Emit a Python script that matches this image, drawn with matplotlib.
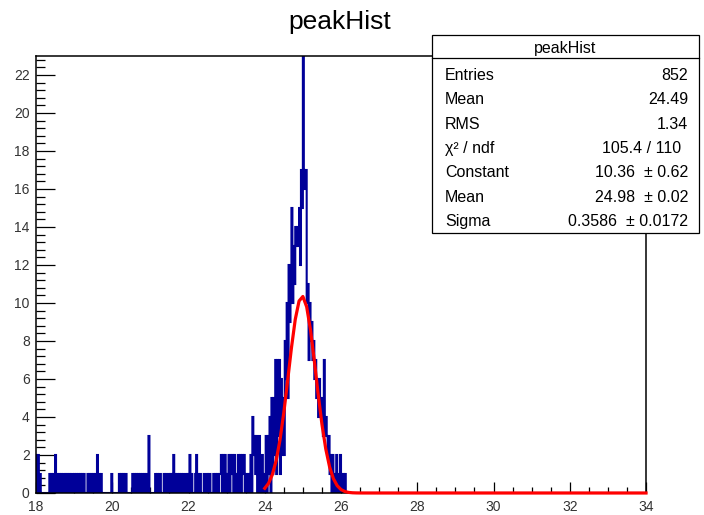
"""ROOT-style histogram 'peakHist' with gaussian fit and stats box."""
import numpy as np
import matplotlib
matplotlib.use("Agg")
import matplotlib.pyplot as plt
from matplotlib.patches import Rectangle
from matplotlib.lines import Line2D
from matplotlib.ticker import MultipleLocator

plt.rcParams["font.family"] = ["Liberation Sans", "DejaVu Sans"]
plt.rcParams["path.simplify"] = False  # keep every sub-pixel bin edge

# binning: 0.025 wide bins from 18 to 34
X_LO, X_HI, BIN_W = 18.0, 34.0, 0.025

# bin contents, 40 bins per unit of x
counts_18 = [2, 0, 2, 0, 1, 0, 0, 0, 0, 0, 0, 0, 0, 0, 1, 0, 1, 0, 1, 0,
             2, 0, 1, 0, 1, 0, 1, 0, 1, 1, 0, 1, 0, 1, 0, 1, 0, 1, 1, 0]
counts_19 = [1, 0, 1, 0, 1, 0, 1, 0, 1, 0, 1, 0, 0, 0, 1, 0, 1, 0, 1, 0,
             1, 0, 1, 0, 2, 0, 1, 0, 1, 0, 0, 0, 0, 0, 0, 0, 0, 0, 0, 1]
counts_20 = [0, 0, 0, 0, 0, 0, 0, 1, 0, 1, 0, 1, 0, 1, 1, 0, 0, 0, 0, 0,
             0, 1, 0, 1, 0, 1, 0, 1, 0, 1, 0, 1, 0, 1, 0, 1, 0, 0, 3, 0]
counts_21 = [0, 0, 0, 0, 0, 1, 0, 1, 0, 1, 1, 0, 0, 0, 1, 0, 1, 0, 0, 1,
             0, 1, 0, 1, 2, 0, 1, 0, 1, 0, 1, 0, 1, 0, 1, 0, 0, 1, 0, 1]
counts_22 = [0, 2, 0, 1, 0, 0, 0, 1, 2, 0, 1, 0, 1, 0, 0, 0, 1, 0, 0, 1,
             0, 1, 1, 0, 0, 0, 1, 0, 1, 0, 1, 0, 1, 1, 2, 0, 2, 0, 2, 1]
counts_23 = [0, 1, 2, 0, 2, 1, 2, 0, 2, 1, 0, 1, 2, 0, 2, 0, 2, 1, 2, 0,
             1, 0, 1, 0, 1, 2, 0, 4, 2, 3, 1, 3, 0, 2, 3, 0, 1, 2, 0, 1]
counts_24 = [0, 3, 0, 3, 1, 4, 0, 5, 1, 5, 2, 7, 1, 7, 3, 7, 1, 6, 2, 5,
             2, 8, 6, 10, 5, 12, 9, 11, 15, 10, 13, 11, 14, 13, 14, 13, 15, 12, 17, 15]
counts_25 = [23, 17, 16, 17, 10, 11, 7, 10, 8, 9, 7, 8, 6, 7, 5, 6, 4, 6, 5, 4,
             5, 3, 7, 3, 4, 3, 2, 3, 1, 2, 0, 2, 0, 1, 0, 2, 0, 1, 0, 2]
counts_26 = [1, 0, 1, 0, 1]

# gaussian fit result (from the stats box)
fit_const, fit_mean, fit_sigma = 10.36, 24.98, 0.3586
fit_lo, fit_hi, fit_npx = 24.0, 34.0, 100

stats_title = "peakHist"
stats_labels = ["Entries", "Mean", "RMS", "χ² / ndf", "Constant", "Mean", "Sigma"]
stats_values = ["852", "24.49", "1.34", "105.4 / 110", "10.36  ± 0.62",
                "24.98  ± 0.02", "0.3586  ± 0.0172"]

W, H = 704, 515


def fx(px):
    return px / W


def fy(py):
    return 1 - py / H


counts = np.concatenate([counts_18, counts_19, counts_20, counts_21, counts_22,
                         counts_23, counts_24, counts_25, counts_26]).astype(float)
n_bins = int(round((X_HI - X_LO) / BIN_W))
counts = np.concatenate([counts, np.zeros(n_bins - len(counts))])
edges = X_LO + BIN_W * np.arange(n_bins + 1)

fig = plt.figure(figsize=(W / 100, H / 100), dpi=100)
fig.patch.set_facecolor("white")
ax = fig.add_axes([fx(36), fy(493), (646 - 36) / W, (493 - 56) / H])

st = ax.stairs(counts, edges, color="#000099", lw=1.5, baseline=0, zorder=2)
st.set_snap(False)

xf = np.linspace(fit_lo, fit_hi, fit_npx + 1)
yf = fit_const * np.exp(-0.5 * ((xf - fit_mean) / fit_sigma) ** 2)
ax.plot(xf, yf, color="#FF0000", lw=2.3, zorder=4, clip_on=False)

ax.set_xlim(X_LO, X_HI)
ax.set_ylim(0, 23)

ax.xaxis.set_major_locator(MultipleLocator(2))
ax.xaxis.set_minor_locator(MultipleLocator(0.5))
ax.yaxis.set_major_locator(MultipleLocator(2))
ax.yaxis.set_minor_locator(MultipleLocator(0.4))

ax.tick_params(axis="x", which="major", direction="in", length=8, width=0.9,
               labelsize=10, pad=5, top=False, labelcolor="#333333")
ax.tick_params(axis="x", which="minor", direction="in", length=4, width=0.9, top=False)
ax.tick_params(axis="y", which="major", direction="in", length=13.5, width=0.9,
               labelsize=10, pad=4.5, right=False, labelcolor="#333333")
ax.tick_params(axis="y", which="minor", direction="in", length=6.7, width=0.9, right=False)

for s in ax.spines.values():
    s.set_linewidth(1.1)
    s.set_color("black")

# title
fig.text(fx(340), fy(28.5), "peakHist", ha="center", va="baseline", fontsize=19)

# stats box
box_l, box_r, box_t, box_b = 432, 699, 35, 233
fig.add_artist(Rectangle((fx(box_l), fy(box_b)), (box_r - box_l) / W, (box_b - box_t) / H,
                         transform=fig.transFigure, facecolor="white",
                         edgecolor="black", lw=0.9, zorder=10))
fig.add_artist(Line2D([fx(box_l), fx(box_r)], [fy(58), fy(58)],
                      transform=fig.transFigure, color="black", lw=0.9, zorder=11))
fig.text(fx(565), fy(52.5), stats_title, ha="center", va="baseline",
         fontsize=11.5, zorder=12)
for i, (lab, val) in enumerate(zip(stats_labels, stats_values)):
    base = 80 + i * 24.3
    fig.text(fx(445), fy(base), lab, ha="left", va="baseline", fontsize=11.5, zorder=12)
    right = 681 if "/" in val else 688
    fig.text(fx(right), fy(base), val, ha="right", va="baseline", fontsize=11.5, zorder=12)

fig.savefig("out.png", dpi=100, facecolor="white")
